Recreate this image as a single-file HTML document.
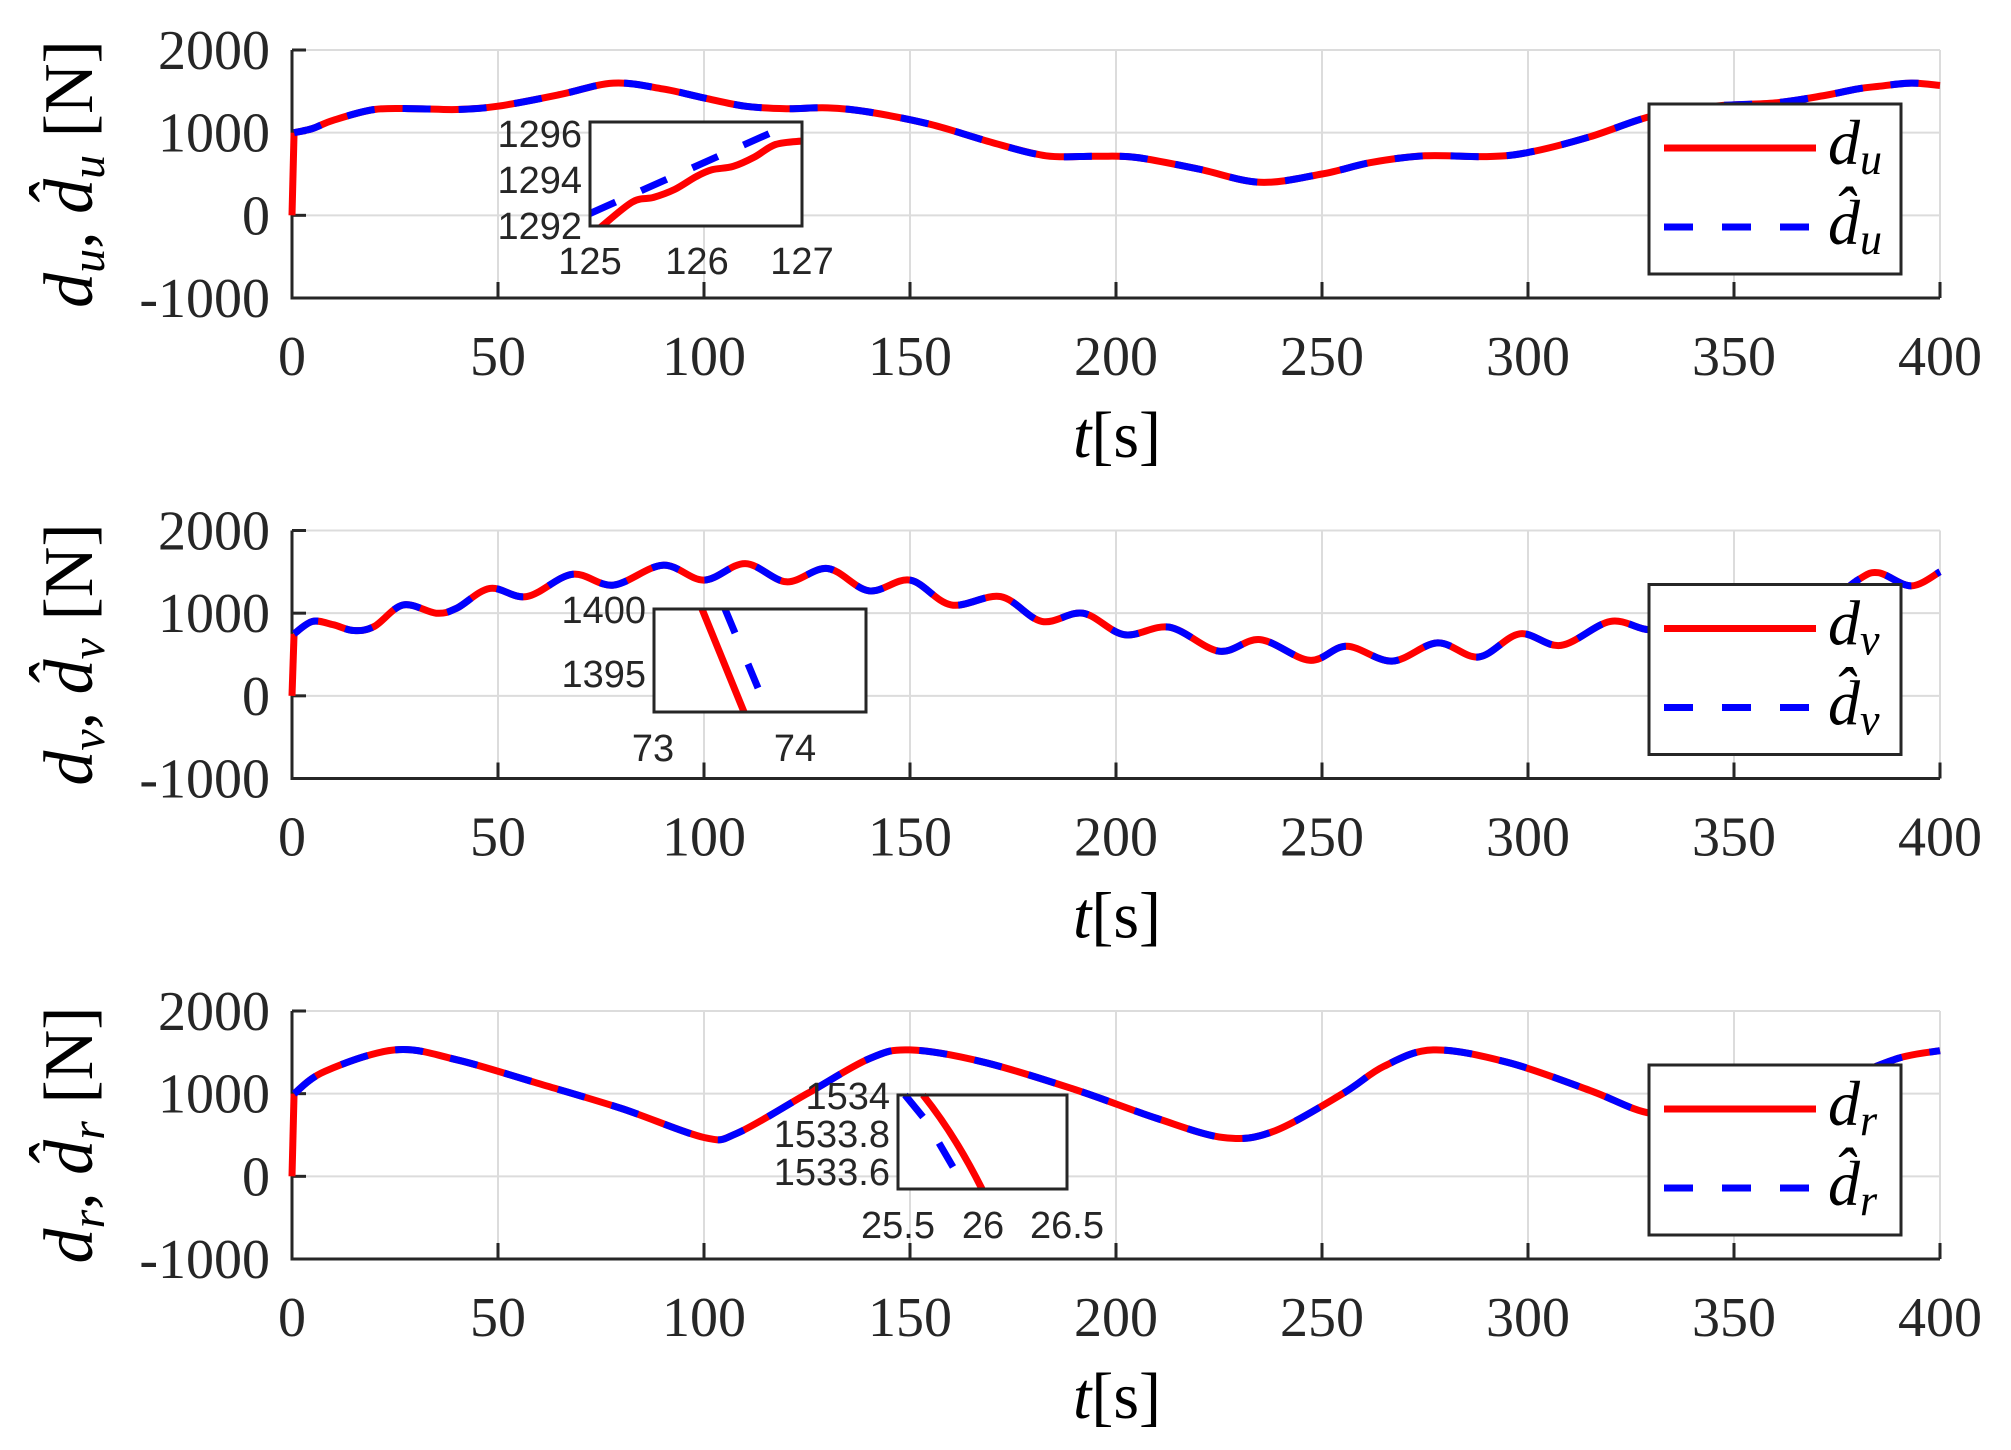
<!DOCTYPE html>
<html><head><meta charset="utf-8"><style>
html,body{margin:0;padding:0;background:#fff;}
svg{display:block;}
.tk{font-family:"Liberation Serif",serif;font-size:56px;fill:#262626;}
.in{font-family:"Liberation Sans",sans-serif;font-size:38px;fill:#262626;}
.lab{font-family:"Liberation Serif",serif;fill:#000;}
</style></head><body>
<svg id="s" width="2011" height="1450" viewBox="0 0 2011 1450" xmlns="http://www.w3.org/2000/svg"></svg>
<script>
const S=document.getElementById('s');
let h='';
const X0=292,X1=1940,H=248;
const xs=t=>X0+(t/400)*(X1-X0);
function smooth(pts){
  let d='M'+pts[0][0].toFixed(1)+','+pts[0][1].toFixed(1);
  for(let i=0;i<pts.length-1;i++){
    const p0=pts[Math.max(0,i-1)],p1=pts[i],p2=pts[i+1],p3=pts[Math.min(pts.length-1,i+2)];
    const c1=[p1[0]+(p2[0]-p0[0])/6,p1[1]+(p2[1]-p0[1])/6];
    const c2=[p2[0]-(p3[0]-p1[0])/6,p2[1]-(p3[1]-p1[1])/6];
    d+=`C${c1[0].toFixed(1)},${c1[1].toFixed(1)} ${c2[0].toFixed(1)},${c2[1].toFixed(1)} ${p2[0].toFixed(1)},${p2[1].toFixed(1)}`;
  }
  return d;
}
const data=[
[[0,0],[0.5,1000],[5,1050],[10,1150],[20,1280],[30,1290],[40,1280],[50,1320],[65,1460],[78,1600],[90,1530],[100,1420],[110,1320],[120,1290],[130,1300],[140,1250],[155,1100],[170,880],[183,720],[195,715],[205,700],[220,560],[235,400],[250,500],[262,640],[275,720],[290,710],[300,760],[315,950],[330,1200],[345,1320],[360,1360],[372,1450],[380,1530],[385,1560],[393,1600],[400,1570]],
[[0,0],[0.5,750],[5,900],[10,860],[15,790],[20,840],[27,1100],[35,1000],[40,1060],[48,1300],[57,1200],[68,1470],[78,1340],[90,1580],[100,1400],[110,1600],[120,1380],[130,1540],[140,1270],[150,1400],[160,1100],[172,1200],[182,900],[192,1000],[202,740],[213,830],[225,540],[235,680],[247,430],[256,600],[267,420],[278,640],[288,470],[298,750],[308,610],[320,900],[330,800],[340,950],[350,870],[360,1150],[370,1050],[380,1400],[385,1490],[393,1330],[400,1500]],
[[0,0],[0.5,1000],[8,1270],[25,1530],[40,1410],[60,1120],[80,820],[100,470],[108,520],[125,1000],[140,1420],[150,1530],[168,1380],[190,1050],[210,700],[226,470],[238,540],[255,1000],[265,1330],[277,1530],[295,1380],[315,1040],[330,760],[345,800],[360,950],[375,1150],[390,1430],[400,1520]]
];
const names=['u','v','r'];
for(let p=0;p<3;p++){
  const T=50+480.5*p, ys=v=>T+(2000-v)/3000*H, B=T+H;
  for(let t=50;t<=400;t+=50) h+=`<line x1="${xs(t)}" y1="${T}" x2="${xs(t)}" y2="${B}" stroke="#dcdcdc" stroke-width="2"/>`;
  for(let v=-1000;v<=2000;v+=1000) h+=`<line x1="${X0}" y1="${ys(v)}" x2="${X1}" y2="${ys(v)}" stroke="#dcdcdc" stroke-width="2"/>`;
  h+=`<path d="M${X0},${T}V${B}H${X1}" fill="none" stroke="#262626" stroke-width="3"/>`;
  for(let t=0;t<=400;t+=50) h+=`<line x1="${xs(t)}" y1="${B}" x2="${xs(t)}" y2="${B-16}" stroke="#262626" stroke-width="3"/>`;
  for(let v=-1000;v<=2000;v+=1000) h+=`<line x1="${X0}" y1="${ys(v)}" x2="${X0+14}" y2="${ys(v)}" stroke="#262626" stroke-width="3"/>`;
  for(let v=-1000;v<=2000;v+=1000) h+=`<text class="tk" x="270" y="${ys(v)+19}" text-anchor="end">${v}</text>`;
  for(let t=0;t<=400;t+=50) h+=`<text class="tk" x="${xs(t)}" y="${T+325}" text-anchor="middle">${t}</text>`;
  h+=`<text class="lab" x="1117" y="${T+407}" text-anchor="middle" font-size="66"><tspan font-style="italic">t</tspan>[s]</text>`;
  const cy=T+124;
  h+=`<text class="lab" transform="translate(92,${cy}) rotate(-90)" text-anchor="middle" font-size="70"><tspan font-style="italic">d</tspan><tspan font-style="italic" font-size="48" dy="12">${names[p]}</tspan><tspan dy="-12">, </tspan><tspan font-style="italic">d&#770;</tspan><tspan font-style="italic" font-size="48" dy="12">${names[p]}</tspan><tspan dy="-12"> [N]</tspan></text>`;
  const pts=data[p].map(q=>[xs(q[0]),ys(q[1])]);
  const d=smooth(pts.slice(1));
  h+=`<path d="M${pts[0][0]},${pts[0][1]}L${pts[1][0]},${pts[1][1]}" stroke="#ff0000" stroke-width="7" fill="none"/>`;
  h+=`<path d="${d}" stroke="#ff0000" stroke-width="7" fill="none"/>`;
  h+=`<path d="${d}" stroke="#0000ff" stroke-width="7" fill="none" stroke-dasharray="28 28"/>`;
  const LT=104+480.5*p;
  h+=`<rect x="1649" y="${LT}" width="252" height="170" fill="#fff" stroke="#262626" stroke-width="3"/>`;
  h+=`<line x1="1664" y1="${LT+44}" x2="1816" y2="${LT+44}" stroke="#ff0000" stroke-width="7"/>`;
  h+=`<line x1="1664" y1="${LT+123}" x2="1816" y2="${LT+123}" stroke="#0000ff" stroke-width="7" stroke-dasharray="29 29"/>`;
  h+=`<text class="lab" x="1828" y="${LT+60}" font-size="64" font-style="italic">d<tspan font-size="44" dy="10">${names[p]}</tspan></text>`;
  h+=`<text class="lab" x="1828" y="${LT+140}" font-size="64" font-style="italic">d&#770;<tspan font-size="44" dy="10">${names[p]}</tspan></text>`;
}
h+=`<clipPath id="c1"><rect x="590" y="122" width="212" height="104"/></clipPath>`;
h+=`<rect x="590" y="122" width="212" height="104" fill="#fff"/>`;
{const ix=t=>590+(t-125)*106,iy=v=>225-(v-1292)*23;
 const r=[[125.1,1291.9],[125.4,1293],[125.6,1293.2],[125.8,1293.55],[126,1294.1],[126.15,1294.4],[126.35,1294.55],[126.55,1294.95],[126.75,1295.5],[127,1295.65]].map(q=>[ix(q[0]),iy(q[1])]);
 h+=`<g clip-path="url(#c1)"><path d="${smooth(r)}" stroke="#ff0000" stroke-width="7" fill="none"/><path d="M${ix(125)},${iy(1292.5)}L${ix(126.8)},${iy(1296.2)}" stroke="#0000ff" stroke-width="7" stroke-dasharray="28 28"/></g>`;}
h+=`<rect x="590" y="122" width="212" height="104" fill="none" stroke="#262626" stroke-width="3"/>`;
[[1296,133],[1294,179],[1292,225]].forEach(a=>h+=`<text class="in" x="582" y="${a[1]+14}" text-anchor="end">${a[0]}</text>`);
[[125,590],[126,697],[127,802]].forEach(a=>h+=`<text class="in" x="${a[1]}" y="274" text-anchor="middle">${a[0]}</text>`);
h+=`<rect x="654" y="609" width="212" height="103" fill="#fff"/>`;
h+=`<line x1="702" y1="609" x2="744" y2="712" stroke="#ff0000" stroke-width="7"/>`;
h+=`<line x1="725" y1="609" x2="735" y2="633" stroke="#0000ff" stroke-width="7"/><line x1="748" y1="664" x2="758" y2="688" stroke="#0000ff" stroke-width="7"/>`;
h+=`<rect x="654" y="609" width="212" height="103" fill="none" stroke="#262626" stroke-width="3"/>`;
h+=`<text class="in" x="646" y="623" text-anchor="end">1400</text><text class="in" x="646" y="687" text-anchor="end">1395</text>`;
h+=`<text class="in" x="653" y="761" text-anchor="middle">73</text><text class="in" x="795" y="761" text-anchor="middle">74</text>`;
h+=`<rect x="898" y="1095" width="169" height="94" fill="#fff"/>`;
h+=`<path d="M923,1095Q955,1135 982,1189" stroke="#ff0000" stroke-width="7" fill="none"/>`;
h+=`<line x1="905" y1="1095" x2="923" y2="1117" stroke="#0000ff" stroke-width="7"/><line x1="939" y1="1143" x2="953" y2="1167" stroke="#0000ff" stroke-width="7"/>`;
h+=`<rect x="898" y="1095" width="169" height="94" fill="none" stroke="#262626" stroke-width="3"/>`;
h+=`<text class="in" x="890" y="1109" text-anchor="end">1534</text><text class="in" x="890" y="1147" text-anchor="end">1533.8</text><text class="in" x="890" y="1185" text-anchor="end">1533.6</text>`;
h+=`<text class="in" x="898" y="1238" text-anchor="middle">25.5</text><text class="in" x="983" y="1238" text-anchor="middle">26</text><text class="in" x="1067" y="1238" text-anchor="middle">26.5</text>`;
S.innerHTML=h;
</script>
</body></html>
